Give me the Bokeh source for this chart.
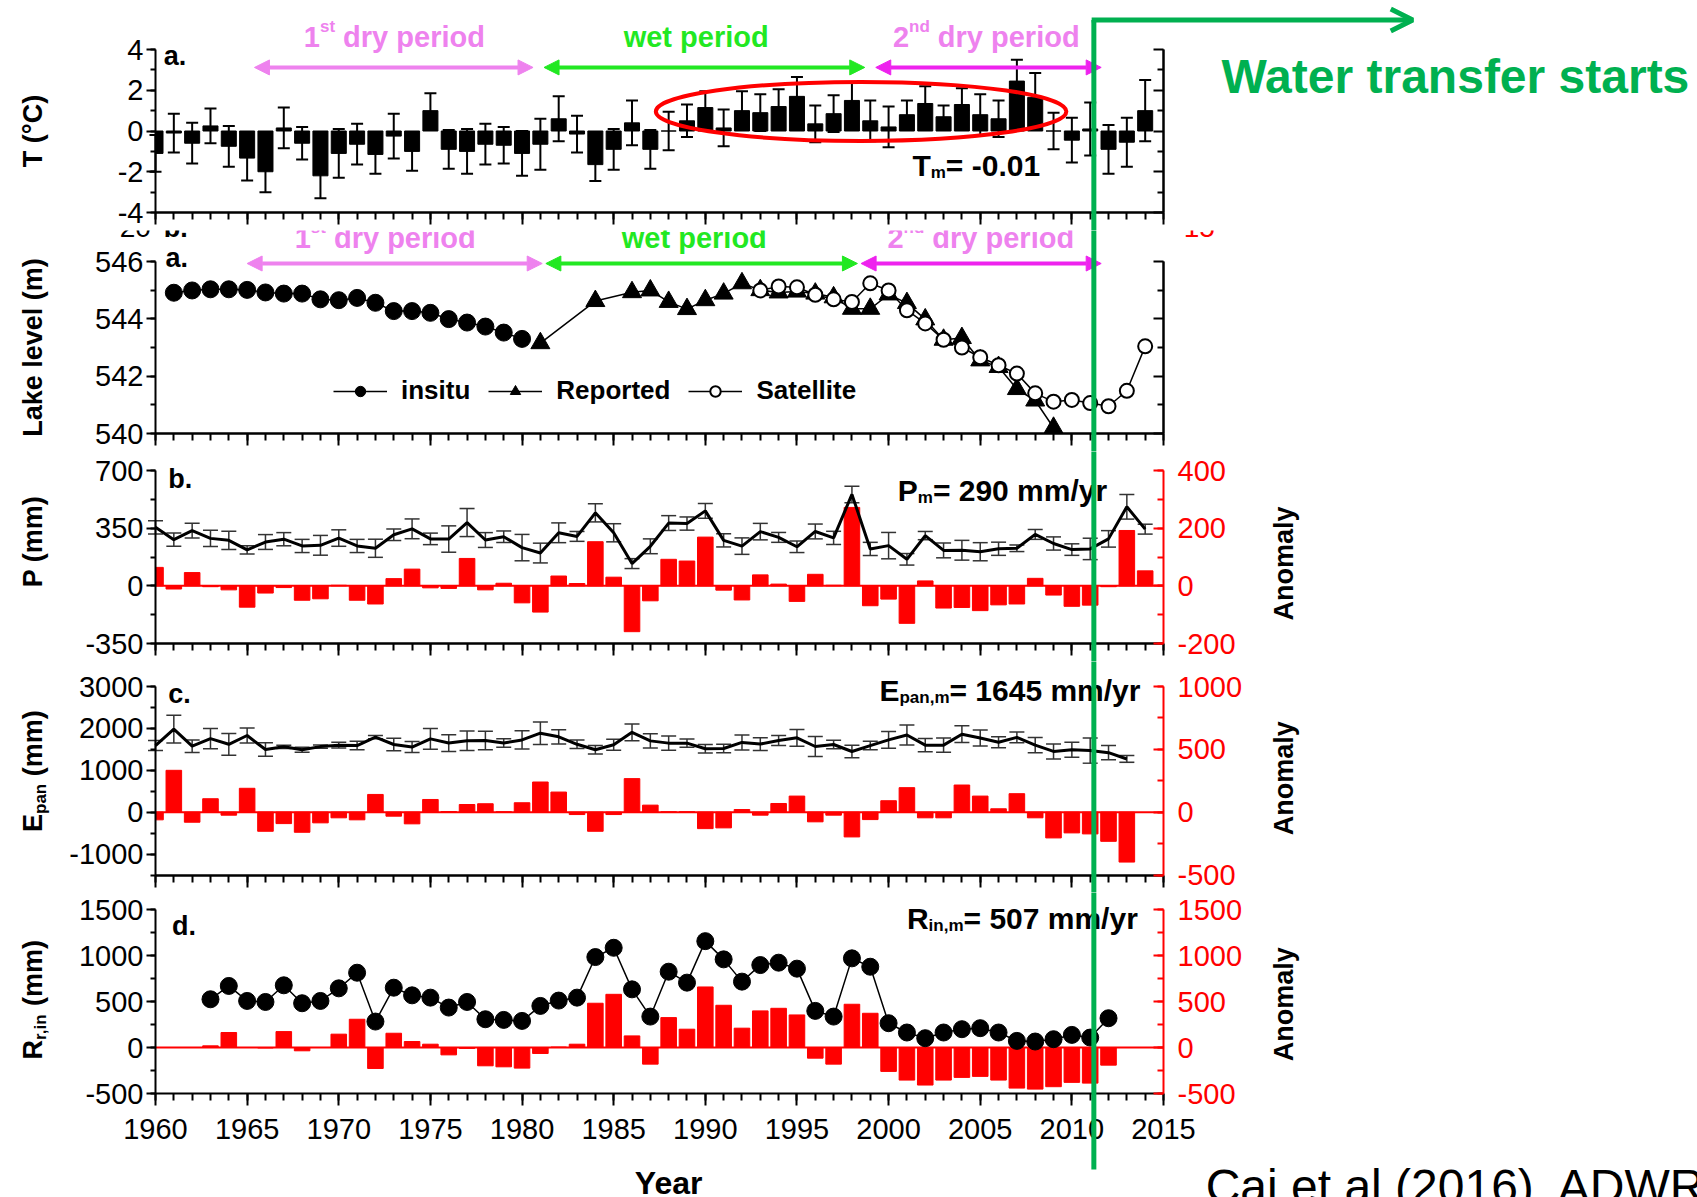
import math
from bokeh.plotting import figure
from bokeh.models import (Range1d, LinearAxis, SingleIntervalTicker, FixedTicker, PrintfTickFormatter,
                          Label, Arrow, NormalHead, OpenHead, Whisker, TeeHead, ColumnDataSource)
from bokeh.layouts import column
from bokeh.embed import file_html
from bokeh.resources import INLINE

# ---------------- data ----------------
years_T = list(range(1960, 2015))
T_anom = [-1.1, -0.1, -0.6, 0.25, -0.75, -1.33, -2.0, 0.15, -0.6, -2.2,
          -1.1, -0.65, -1.15, -0.25, -1.0, 1.0, -0.9, -1.0, -0.65, -0.7,
          -1.1, -0.65, 0.6, -0.15, -1.65, -0.9, 0.4, -0.9, 0.0, 0.5,
          1.15, 0.15, 1.0, 0.9, 1.2, 1.7, 0.35, 0.85, 1.5, 0.5,
          0.2, 0.8, 1.35, 0.7, 1.3, 0.8, 0.6, 2.45, 1.65, 0.0,
          -0.45, 0.1, -0.9, -0.55, 1.0]
T_err = [0.9, 0.95, 1.0, 0.85, 1.0, 1.1, 1.0, 1.0, 0.8, 1.1,
         1.2, 1.0, 0.95, 1.1, 0.95, 0.85, 0.95, 1.1, 1.0, 0.9,
         1.1, 1.25, 1.1, 0.9, 0.8, 1.0, 1.1, 0.95, 0.95, 0.8,
         0.8, 0.9, 0.95, 0.9, 0.85, 0.95, 0.9, 0.9, 0.85, 1.0,
         1.0, 0.7, 0.85, 0.55, 0.8, 1.0, 0.9, 1.05, 1.2, 0.9,
         1.1, 1.3, 1.2, 1.2, 1.5]

years_insitu = list(range(1961, 1981))
level_insitu = [544.91, 544.99, 545.03, 545.03, 545.01, 544.92, 544.88, 544.88, 544.68, 544.65,
                544.73, 544.56, 544.27, 544.27, 544.21, 543.99, 543.87, 543.73, 543.52, 543.30]
years_reported = [1981, 1984] + list(range(1986, 2010))
level_reported = [543.15, 544.62, 544.93, 544.99, 544.59, 544.34, 544.65, 544.88, 545.24, 545.0,
                  544.92, 544.95, 544.88, 544.75, 544.35, 544.35, 544.85, 544.55, 543.98, 543.27,
                  543.33, 542.55, 542.32, 541.55, 541.15, 540.2]
years_satellite = list(range(1993, 2015))
level_satellite = [544.99, 545.13, 545.1, 544.84, 544.68, 544.59, 545.24, 544.99, 544.30, 543.84,
                   543.27, 543.0, 542.66, 542.38, 542.09, 541.40, 541.11, 541.17, 541.06, 540.95,
                   541.49, 543.04]

years_P = list(range(1960, 2015))
P_mm = [355, 280, 335, 288, 276, 218, 266, 283, 242, 246,
        290, 242, 228, 310, 346, 285, 284, 384, 278, 298,
        232, 199, 322, 300, 443, 322, 135, 240, 381, 378,
        455, 276, 241, 329, 294, 237, 330, 291, 555, 224,
        244, 161, 305, 215, 216, 207, 225, 228, 312, 257,
        220, 224, 285, 480, 344]
P_err = [40, 40, 45, 50, 55, 25, 45, 40, 40, 60,
         50, 40, 55, 35, 60, 35, 80, 85, 45, 35,
         80, 60, 60, 30, 55, 55, 30, 45, 45, 40,
         45, 40, 50, 50, 30, 35, 45, 40, 50, 40,
         80, 35, 25, 45, 60, 55, 40, 20, 30, 40,
         35, 65, 50, 75, 30]
P_anom = [64, -11, 46, -3, -14, -74, -25, -6, -50, -45,
          2, -50, -63, 25, 58, -7, -9, 95, -14, 9,
          -59, -91, 34, 8, 153, 30, -159, -52, 92, 86,
          169, -15, -49, 38, 6, -54, 40, 2, 272, -69,
          -46, -130, 17, -77, -75, -86, -66, -63, 26, -32,
          -71, -67, -3, 192, 52]

years_E = list(range(1960, 2014))
E_mm = [1590, 1984, 1575, 1755, 1620, 1830, 1495, 1560, 1490, 1565,
        1600, 1590, 1790, 1615, 1555, 1750, 1650, 1705, 1710, 1650,
        1725, 1885, 1800, 1620, 1490, 1610, 1905, 1702, 1648, 1648,
        1515, 1520, 1665, 1625, 1710, 1775, 1568, 1615, 1448, 1590,
        1725, 1842, 1600, 1600, 1862, 1772, 1670, 1785, 1600, 1450,
        1490, 1470, 1420, 1270]
E_err = [120, 330, 150, 240, 260, 180, 160, 40, 60, 40,
         70, 100, 40, 150, 130, 250, 200, 230, 220, 100,
         220, 270, 170, 100, 100, 130, 200, 170, 170, 100,
         100, 100, 180, 150, 120, 200, 240, 100, 150, 100,
         200, 240, 160, 170, 200, 190, 130, 130, 180, 180,
         180, 300, 170, 80]
E_anom = [-61, 333, -80, 107, -24, 190, -152, -91, -160, -85,
          -45, -61, 141, -32, -93, 101, 5, 61, 67, 3,
          75, 240, 160, -19, -152, -19, 267, 56, 3, 3,
          -131, -125, 21, -24, 69, 128, -77, -24, -197, -59,
          91, 195, -45, -45, 216, 128, 27, 147, -45, -205,
          -165, -173, -232, -397]

years_R = list(range(1963, 2013))
R_mm = [524, 669, 506, 495, 676, 481, 506, 643, 813, 282,
        650, 567, 542, 434, 495, 307, 300, 289, 452, 510,
        542, 983, 1084, 632, 336, 824, 705, 1156, 958, 716,
        896, 922, 857, 398, 336, 969, 878, 264, 163, 101,
        163, 199, 210, 163, 72, 65, 90, 137, 108, 318]
R_anom = [18, 163, 0, -5, 173, -36, 0, 145, 307, -228,
          155, 65, 36, -80, -10, -199, -210, -224, -65, 5,
          36, 481, 578, 126, -181, 325, 199, 658, 459, 210,
          398, 426, 354, -116, -181, 470, 372, -260, -354, -408,
          -354, -325, -314, -354, -441, -452, -426, -379, -387, -192]

# axis extents and ticks
X_START, X_END = 1960, 2015
x_major = list(range(1960, 2016, 5))
x_minor = list(range(1960, 2016))
T_lim, L_lim, P_lim, PA_lim = (-4, 4), (540, 546), (-350, 700), (-200, 400)
E_lim, EA_lim, R_lim, RA_lim = (-1500, 3000), (-500, 1000), (-500, 1500), (-500, 1500)

# period arrows: (start year, end year, colour)
periods_T = [(1965.4, 1980.6, "#ee82ee"), (1981.2, 1998.7, "#22e822"), (1999.3, 2011.6, "#ee22ee")]
periods_L = [(1965.0, 1981.1, "#ee82ee"), (1981.3, 1998.3, "#22e822"), (1998.5, 2011.6, "#ee22ee")]
transfer_year = 2011.2

# ---------------- geometry / styling ----------------
FONT = "Liberation Sans"
W = 1697
FL = 155          # x pixel of 1960
FW = 1008         # pixels from 1960 to 2015
UPX = (X_END - X_START) / FW
GREEN = "#00b050"
RED = "#ff0000"
VIOLET = "#ee82ee"
WETGREEN = "#22e822"
TICK_FS = "29px"

BW = {' ': 278, '!': 333, '(': 333, ')': 333, ',': 278, '-': 333, '.': 278, '/': 278, '=': 584,
      '°': 400, 'A': 722, 'C': 722, 'E': 667, 'L': 611, 'P': 667, 'R': 722, 'T': 611, 'W': 944,
      'a': 556, 'd': 611, 'e': 556, 'f': 333, 'i': 278, 'l': 278, 'm': 889, 'n': 611, 'o': 611,
      'p': 611, 'r': 389, 's': 556, 't': 333, 'u': 611, 'v': 556, 'w': 778, 'y': 556}


def tw(s, size):
    return sum(BW.get(c, 556) for c in s) * size / 1000.0


def lab(p, x, y, text, size, color="black", bold=True, align="left", baseline="alphabetic",
        angle=0.0, xo=0, yo=0, comp=None):
    # a baseline anchor is rendered about 0.36 em too low: lift it
    if baseline == "alphabetic":
        yo = yo + 0.36 * (comp if comp else size)
        baseline = "middle"
    p.add_layout(Label(x=x, y=y, x_offset=xo, y_offset=yo, text=text, angle=angle,
                       text_font=FONT, text_font_size=f"{size}px",
                       text_font_style="bold" if bold else "normal", text_color=color,
                       text_align=align, text_baseline=baseline))


def rich_h(p, x, y, pieces, color="black"):
    off = 0.0
    main = pieces[0][1]
    for t, s, d in pieces:
        lab(p, x, y, t, s, color=color, xo=off, yo=d - 0.36 * s + 0.36 * main)
        off += tw(t, s)


def rich_v(p, xc, yc, pieces, color="black"):
    total = sum(tw(t, s) for t, s, d in pieces)
    off = -total / 2.0
    for t, s, d in pieces:
        stripped = t.lstrip(" ")
        off += tw(t[:len(t) - len(stripped)], s)
        lab(p, xc, yc, stripped, s, color=color, baseline="middle", angle=math.pi / 2, xo=d, yo=off)
        off += tw(stripped, s)


def vrange(lim, top_px, bot_px, h):
    k = (lim[1] - lim[0]) / (bot_px - top_px)
    return Range1d(lim[0] - (h - bot_px) * k, lim[1] + top_px * k)


def make_fig(h, top_px, bot_px, lim):
    xr = Range1d(X_START - FL * UPX, X_START + (W - FL) * UPX)
    p = figure(width=W, height=h, x_range=xr, y_range=vrange(lim, top_px, bot_px, h),
               output_backend="svg", toolbar_location=None, tools="",
               x_axis_type=None, y_axis_type=None,
               min_border=0, min_border_left=0, min_border_right=0, min_border_top=0, min_border_bottom=0)
    p.outline_line_color = None
    p.grid.visible = False
    p.background_fill_color = "white"
    p.border_fill_color = "white"
    return p


def style(ax, color):
    ax.axis_line_width = 2
    ax.major_tick_line_width = 2
    ax.minor_tick_line_width = 2
    ax.axis_line_color = color
    ax.major_tick_line_color = color
    ax.minor_tick_line_color = color


def labeled_axis(p, side, loc, bounds, interval, nminor, color="black", rng=None, inward=False):
    kw = {"y_range_name": rng} if rng else {}
    ax = LinearAxis(fixed_location=loc, bounds=bounds,
                    ticker=SingleIntervalTicker(interval=interval, num_minor_ticks=nminor),
                    formatter=PrintfTickFormatter(format="%d"), **kw)
    style(ax, color)
    if inward:
        ax.major_tick_in, ax.major_tick_out, ax.minor_tick_in, ax.minor_tick_out = 10, 0, 6, 0
        ax.major_label_standoff = 14
    elif side == "below":
        ax.major_tick_in, ax.major_tick_out, ax.minor_tick_in, ax.minor_tick_out = 0, 12, 0, 7
        ax.major_label_standoff = 13
    else:
        ax.major_tick_in, ax.major_tick_out, ax.minor_tick_in, ax.minor_tick_out = 0, 9, 0, 5
        ax.major_label_standoff = 3
    ax.major_label_text_font = FONT
    ax.major_label_text_font_size = TICK_FS
    ax.major_label_text_color = color
    p.add_layout(ax, side)


def plain_axis(p, side, loc, bounds, majors, minors, inward=False):
    for ticks, ln in ((minors, 7 if side == "below" else 6), (majors, 12 if side == "below" else 10)):
        ax = LinearAxis(fixed_location=loc, bounds=bounds, ticker=FixedTicker(ticks=[], minor_ticks=ticks))
        style(ax, "black")
        ax.major_tick_in = ax.major_tick_out = 0
        if inward:
            ax.minor_tick_in, ax.minor_tick_out = ln, 0
        else:
            ax.minor_tick_in, ax.minor_tick_out = 0, ln
        p.add_layout(ax, side)


def bars(p, years, vals, width, color, rng="default"):
    left = [max(x - width / 2, X_START) for x in years]
    right = [min(x + width / 2, X_END) for x in years]
    p.quad(left=left, right=right, top=vals, bottom=0, fill_color=color, line_color=color, y_range_name=rng)


def zero_line(p):
    p.line([X_START, X_END], [0, 0], line_color=RED, line_width=2)


def whiskers(p, years, vals, errs, color, lw, cap):
    src = ColumnDataSource(dict(x=years, upper=[v + e for v, e in zip(vals, errs)],
                                lower=[v - e for v, e in zip(vals, errs)]))
    p.add_layout(Whisker(source=src, base="x", upper="upper", lower="lower", line_color=color, line_width=lw,
                         upper_head=TeeHead(size=cap, line_color=color, line_width=lw),
                         lower_head=TeeHead(size=cap, line_color=color, line_width=lw)))


def green_vline(p, y_top, y_bot):
    p.add_layout(Arrow(end=None, x_start=transfer_year, y_start=y_top, x_end=transfer_year, y_end=y_bot,
                       line_color=GREEN, line_width=5))


def period_arrows(p, periods, y):
    for a, b, c in periods:
        p.add_layout(Arrow(x_start=a, y_start=y, x_end=b, y_end=y, line_color=c, line_width=4,
                           start=NormalHead(size=15, fill_color=c, line_color=c, line_width=1),
                           end=NormalHead(size=15, fill_color=c, line_color=c, line_width=1)))


def period_labels(p, y, x1st, xwet, x2nd):
    s, ss = 29, 17
    lab(p, x1st, y, "dry period", s, color=VIOLET, xo=8)
    lab(p, x1st, y, "st", ss, color=VIOLET, align="right", yo=11, comp=s)
    lab(p, x1st, y, "1", s, color=VIOLET, align="right", xo=-tw("st", ss))
    lab(p, xwet, y, "wet period", s, color=WETGREEN, align="center")
    lab(p, x2nd, y, "dry period", s, color=VIOLET, xo=8)
    lab(p, x2nd, y, "nd", ss, color=VIOLET, align="right", yo=11, comp=s)
    lab(p, x2nd, y, "2", s, color=VIOLET, align="right", xo=-tw("nd", ss))


XL = 1953.3   # left axis-title column (data x)
XA = 2021.55  # right "Anomaly" column

# ---------------- panel T ----------------
pT = make_fig(230, 49, 212, T_lim)
labeled_axis(pT, "left", X_START, T_lim, 2, 2)
plain_axis(pT, "right", X_END, T_lim, [-4, -2, 0, 2, 4], [-3, -1, 1, 3], inward=True)
plain_axis(pT, "below", T_lim[0], (X_START, X_END), x_major, x_minor)
bars(pT, years_T, T_anom, 0.82, "black")
whiskers(pT, years_T, T_anom, T_err, "black", 2, 12)
pT.ellipse(x=[1998.5], y=[0.96], width=22.4, height=2.9, fill_color=None, line_color=RED, line_width=4)
period_arrows(pT, periods_T, 3.12)
period_labels(pT, 4.1, 1969.8, 1989.5, 2002.25)
lab(pT, 1960.45, 3.2, "a.", 27)
rich_h(pT, 2001.3, -2.2, [("T", 30, 0), ("m", 17, -7), ("= -0.01", 30, 0)])
rich_v(pT, XL, 0.0, [("T (°C)", 27, 0)])
lab(pT, 2018.17, 1.84, "Water transfer starts", 48, color=GREEN)
green_vline(pT, 5.45, -8)
pT.add_layout(Arrow(x_start=transfer_year - 0.12, y_start=5.45, x_end=2028.6, y_end=5.45,
                    line_color=GREEN, line_width=5,
                    end=OpenHead(size=22, line_color=GREEN, line_width=5)))

# ---------------- panel lake level ----------------
pL = make_fig(221, 31, 203, L_lim)
labeled_axis(pL, "left", X_START, L_lim, 2, 2)
plain_axis(pL, "right", X_END, L_lim, [540, 542, 544, 546], [541, 543, 545], inward=True)
plain_axis(pL, "below", L_lim[0], (X_START, X_END), x_major, x_minor)
pL.line(years_insitu, level_insitu, line_color="black", line_width=1.5, legend_label="insitu")
pL.scatter(years_insitu, level_insitu, marker="circle", size=17, fill_color="black", line_color="black",
           legend_label="insitu")
pL.line(years_reported, level_reported, line_color="black", line_width=1.5, legend_label="Reported")
pL.scatter(years_reported, level_reported, marker="triangle", size=19, fill_color="black",
           line_color="black", legend_label="Reported")
pL.line(years_satellite, level_satellite, line_color="black", line_width=1.5, legend_label="Satellite")
pL.scatter(years_satellite, level_satellite, marker="circle", size=14, fill_color="white",
           line_color="black", line_width=2, legend_label="Satellite")
lg = pL.legend[0]
lg.orientation = "horizontal"
lg.location = (333, 45)
lg.border_line_color = None
lg.background_fill_alpha = 0
lg.padding = 0
lg.margin = 0
lg.glyph_width = 54
lg.glyph_height = 26
lg.label_standoff = 14
lg.spacing = 18
lg.label_text_font = FONT
lg.label_text_font_size = "26px"
lg.label_text_font_style = "bold"
lg.label_text_color = "black"
period_arrows(pL, periods_L, 545.93)
# labels of the figure pasted above, cut by the panel edge as in the source image
period_labels(pL, 546.45, 1969.3, 1989.4, 2001.95)
lab(pL, 1959.75, 546.84, "20", 28, bold=False, align="right")
lab(pL, 1960.45, 546.84, "b.", 27)
lab(pL, 2016.1, 546.84, "15", 28, color=RED, bold=False)
lab(pL, 1960.55, 545.8, "a.", 27)
rich_v(pL, XL, 543.0, [("Lake level (m)", 27, 0)])
green_vline(pL, 548, 539)

# ---------------- panel P ----------------
pP = make_fig(210, 19, 192, P_lim)
pP.extra_y_ranges = {"anom": vrange(PA_lim, 19, 192, 210)}
labeled_axis(pP, "left", X_START, P_lim, 350, 2)
labeled_axis(pP, "right", X_END, PA_lim, 200, 2, color=RED, rng="anom", inward=True)
plain_axis(pP, "below", P_lim[0], (X_START, X_END), x_major, x_minor)
bars(pP, years_P, P_anom, 0.85, RED, "anom")
zero_line(pP)
whiskers(pP, years_P, P_mm, P_err, "#333333", 1.5, 15)
pP.line(years_P, P_mm, line_color="black", line_width=3)
lab(pP, 1960.7, 591, "b.", 27)
rich_h(pP, 2000.5, 512, [("P", 30, 0), ("m", 17, -7), ("= 290 mm/yr", 30, 0)])
rich_v(pP, XL, 269, [("P (mm)", 27, 0)])
rich_v(pP, XA, 135, [("Anomaly", 27, 0)])
green_vline(pP, 1000, -700)

# ---------------- panel Epan ----------------
pE = make_fig(231, 25, 213.5, E_lim)
pE.extra_y_ranges = {"anom": vrange(EA_lim, 25, 213.5, 231)}
labeled_axis(pE, "left", X_START, E_lim, 1000, 2)
labeled_axis(pE, "right", X_END, EA_lim, 500, 2, color=RED, rng="anom", inward=True)
plain_axis(pE, "below", E_lim[0], (X_START, X_END), x_major, x_minor)
bars(pE, years_E, E_anom, 0.85, RED, "anom")
zero_line(pE)
whiskers(pE, years_E, E_mm, E_err, "#333333", 1.5, 15)
pE.line(years_E, E_mm, line_color="black", line_width=3)
lab(pE, 1960.7, 2594, "c.", 27)
rich_h(pE, 1999.5, 2642, [("E", 30, 0), ("pan,m", 17, -7), ("= 1645 mm/yr", 30, 0)])
rich_v(pE, XL, 980, [("E", 27, 0), ("pan", 17, 8), (" (mm)", 27, 0)])
rich_v(pE, XA, 810, [("Anomaly", 27, 0)])
green_vline(pE, 4000, -2500)

# ---------------- panel R ----------------
pR = make_fig(305, 17, 201, R_lim)
pR.extra_y_ranges = {"anom": vrange(RA_lim, 17, 201, 305)}
labeled_axis(pR, "left", X_START, R_lim, 500, 2)
labeled_axis(pR, "right", X_END, RA_lim, 500, 2, color=RED, rng="anom", inward=True)
labeled_axis(pR, "below", R_lim[0], (X_START, X_END), 5, 5)
bars(pR, years_R, R_anom, 0.85, RED, "anom")
zero_line(pR)
pR.line(years_R, R_mm, line_color="black", line_width=1.5)
pR.scatter(years_R, R_mm, marker="circle", size=17, fill_color="black", line_color="black")
lab(pR, 1960.9, 1217, "d.", 27)
rich_h(pR, 2001.0, 1287, [("R", 30, 0), ("in,m", 17, -7), ("= 507 mm/yr", 30, 0)])
rich_v(pR, XL, 520, [("R", 27, 0), ("r,in", 17, 8), (" (mm)", 27, 0)])
rich_v(pR, XA, 470, [("Anomaly", 27, 0)])
lab(pR, 1988.0, -1598, "Year", 32, align="center")
lab(pR, 2017.3, -1696, "Cai et al (2016), ADWR", 48, bold=False)
green_vline(pR, 2500, -1326)

layout = column(pT, pL, pP, pE, pR)
open("out.html", "w").write(file_html(layout, INLINE))
